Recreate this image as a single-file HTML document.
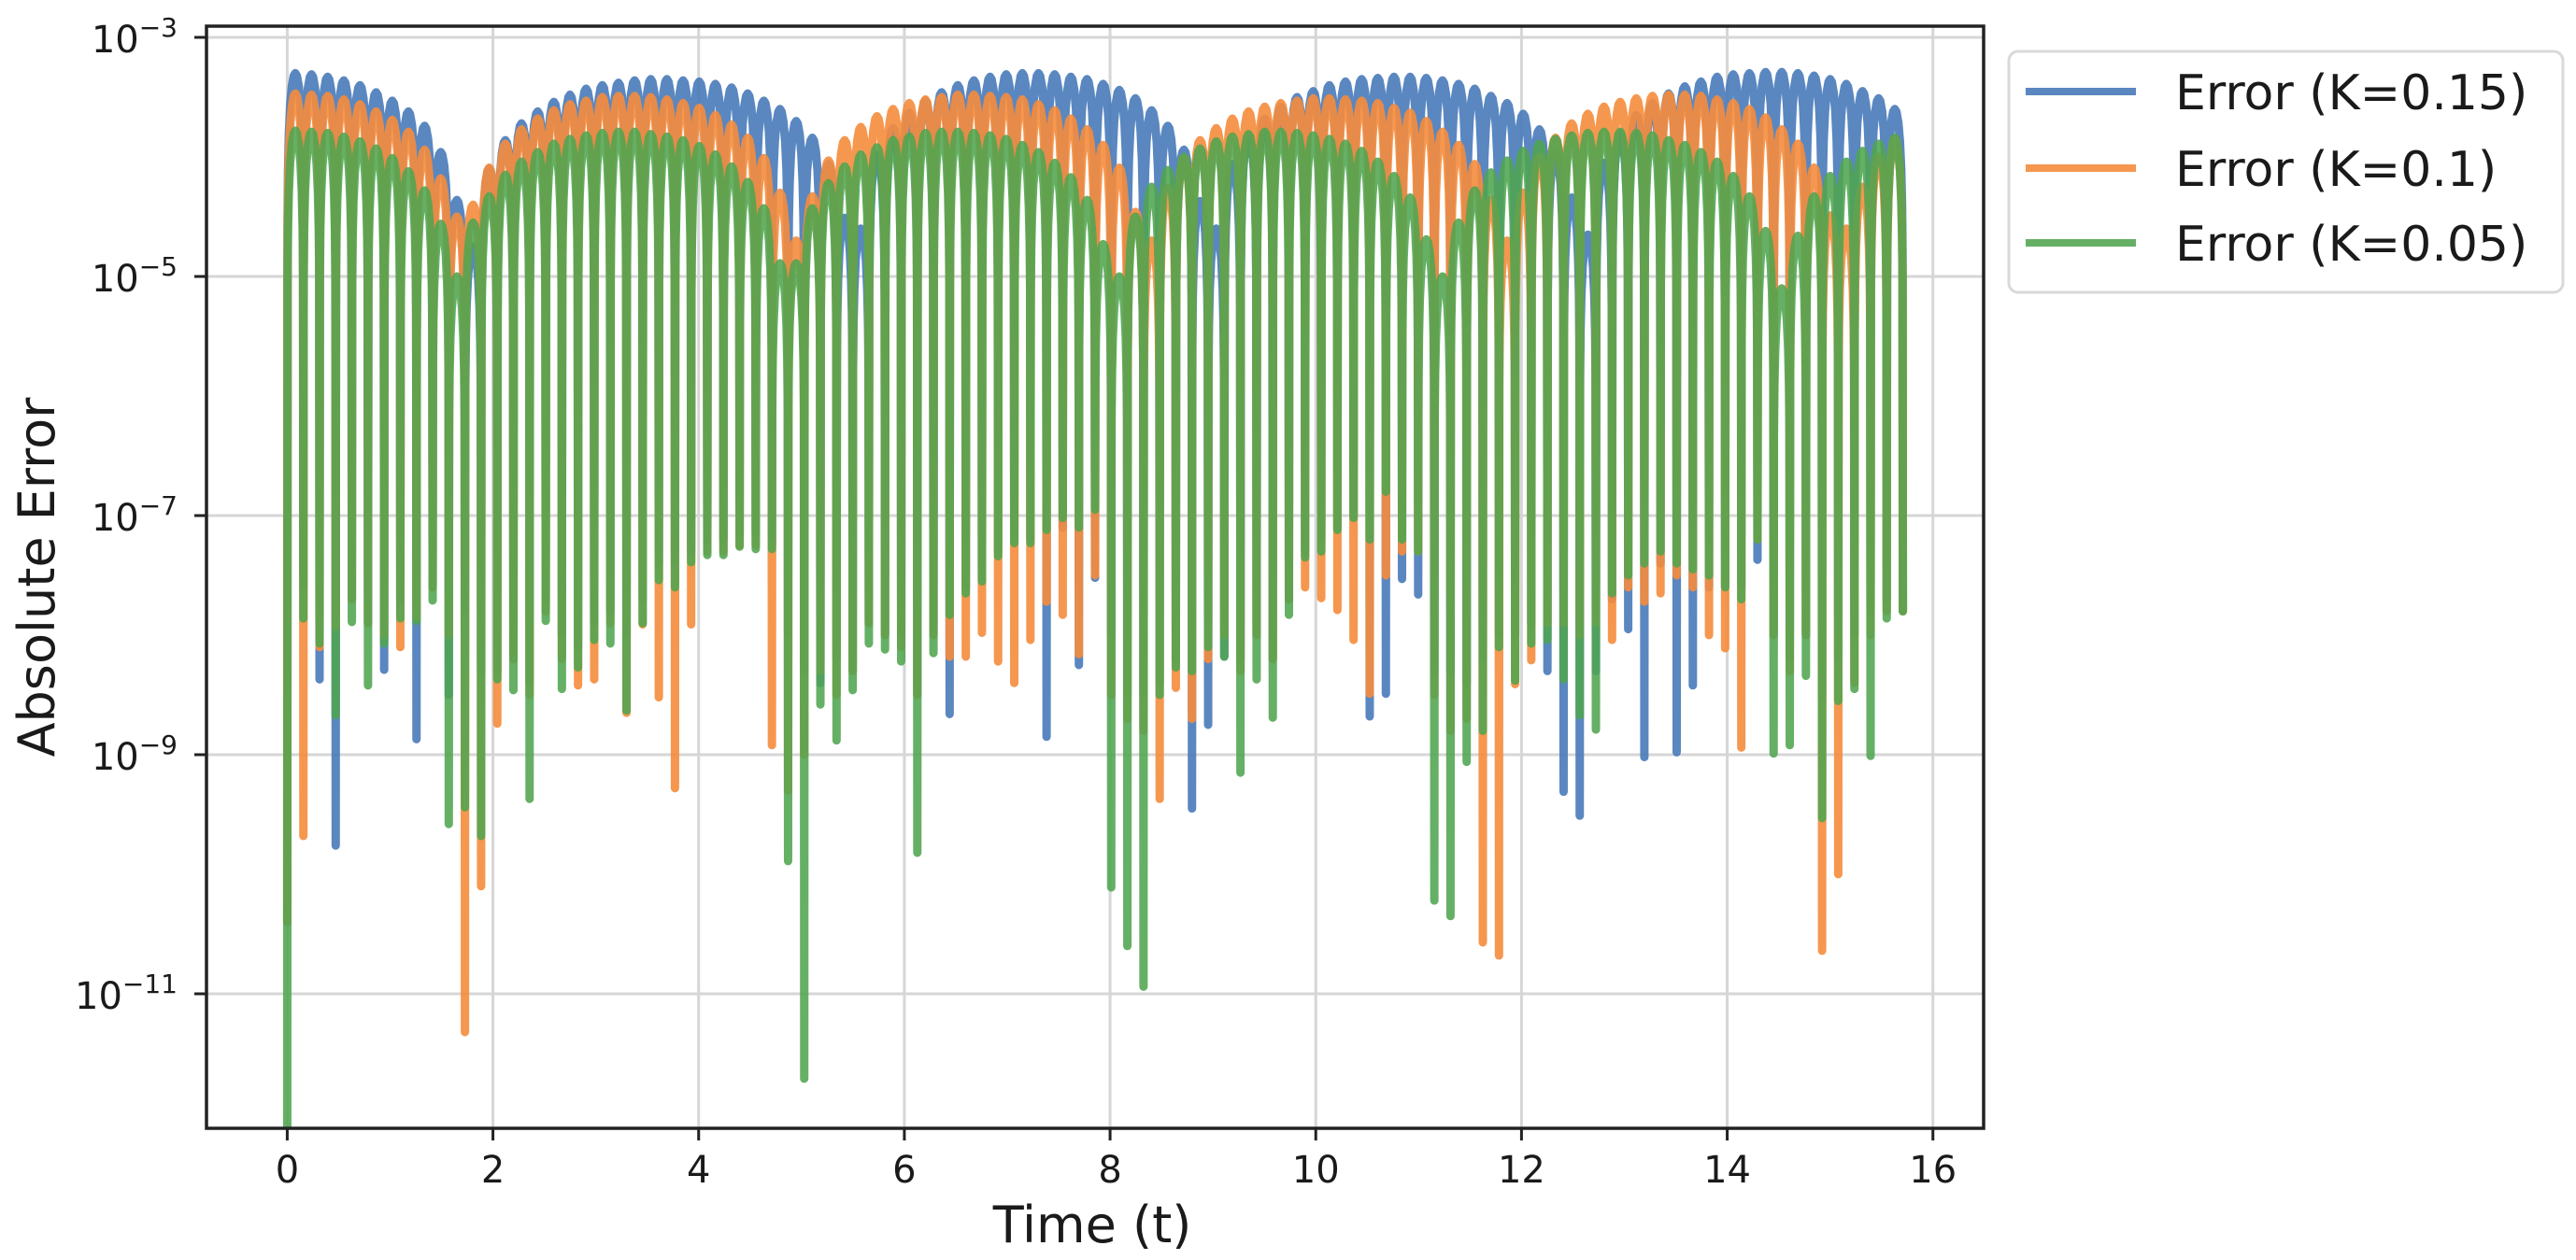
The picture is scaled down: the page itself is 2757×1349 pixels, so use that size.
<!DOCTYPE html>
<html>
<head>
<meta charset="utf-8">
<style>
  html, body { margin: 0; padding: 0; background: #ffffff; }
  svg { display: block; font-family: "DejaVu Sans", "Liberation Sans", sans-serif; }
</style>
</head>
<body>
<svg id="chart" xmlns="http://www.w3.org/2000/svg" width="2757" height="1349" viewBox="0 0 2757 1349">
  <rect x="0" y="0" width="2757" height="1349" fill="#ffffff"/>
  <defs>
    <clipPath id="plotclip"><rect x="221" y="28" width="1902" height="1180"/></clipPath>
  </defs>
  <g id="grid"></g>
  <g id="series" clip-path="url(#plotclip)"></g>
  <rect x="221" y="28" width="1902" height="1180" fill="none" stroke="#222222" stroke-width="3.5"/>
  <g id="xticks"></g>
  <g id="yticks"></g>
  <text x="1169" y="1330" font-size="54" text-anchor="middle" fill="#1a1a1a">Time (t)</text>
  <text transform="rotate(-90)" x="-618" y="58" font-size="54" text-anchor="middle" fill="#1a1a1a">Absolute Error</text>
  <g>
    <rect x="2150" y="55" width="593" height="258" rx="10" fill="#ffffff" stroke="#d9d9d9" stroke-width="3"/>
    <g>
      <line x1="2168" y1="98" x2="2286" y2="98" stroke="rgb(72,122,185)" stroke-opacity="0.9" stroke-width="8"/>
      <text x="2328" y="117" font-size="52" fill="#1a1a1a">Error (K=0.15)</text>
    </g>
    <g>
      <line x1="2168" y1="180" x2="2286" y2="180" stroke="rgb(245,140,60)" stroke-opacity="0.9" stroke-width="8"/>
      <text x="2328" y="199" font-size="52" fill="#1a1a1a">Error (K=0.1)</text>
    </g>
    <g>
      <line x1="2168" y1="260" x2="2286" y2="260" stroke="rgb(80,165,80)" stroke-opacity="0.88" stroke-width="8"/>
      <text x="2328" y="279" font-size="52" fill="#1a1a1a">Error (K=0.05)</text>
    </g>
  </g>
</svg>
<script>
// ---- data (log10 of absolute error) ----
const xTickValues = [0, 2, 4, 6, 8, 10, 12, 14, 16];
const xTickLabels = ["0", "2", "4", "6", "8", "10", "12", "14", "16"];
const yTickExponents = [-3, -5, -7, -9, -11];
const yTickLabels = ["−3", "−5", "−7", "−9", "−11"];
const humpStep = Math.PI / 20;

const bluePeaks = [-3.30,-3.31,-3.33,-3.36,-3.40,-3.46,-3.53,-3.62,-3.74,-3.96,
-4.36,-4.75,-4.10,-3.86,-3.72,-3.62,-3.54,-3.48,-3.43,-3.40,
-3.38,-3.36,-3.35,-3.35,-3.36,-3.37,-3.39,-3.42,-3.47,-3.53,
-3.60,-3.70,-3.84,-4.06,-4.51,-4.60,-3.98,-3.76,-3.63,-3.53,
-3.46,-3.40,-3.36,-3.33,-3.31,-3.30,-3.30,-3.31,-3.33,-3.35,
-3.39,-3.44,-3.51,-3.61,-3.74,-3.94,-4.37,-4.60,-4.06,-3.82,
-3.68,-3.58,-3.50,-3.45,-3.40,-3.37,-3.35,-3.34,-3.33,-3.33,
-3.34,-3.36,-3.39,-3.43,-3.49,-3.55,-3.64,-3.77,-3.97,-4.34,
-4.65,-4.05,-3.80,-3.65,-3.55,-3.47,-3.41,-3.37,-3.33,-3.31,
-3.30,-3.29,-3.29,-3.30,-3.32,-3.35,-3.39,-3.45,-3.51,-3.60];

const blueTroughs = [-10.4,-7.6,-8.37,-9.76,-7.7,-7.9,-8.29,-7.7,-8.87,-7.6,
-8.5,-7.8,-8.3,-8.3,-8.2,-8.4,-7.7,-8.0,-8.1,-7.9,
-7.8,-8.0,-7.7,-7.4,-7.4,-7.3,-7.2,-7.2,-7.15,-7.15,
-7.2,-8.0,-8.3,-8.4,-8.2,-8.3,-7.9,-8.0,-8.0,-8.5,
-8.0,-8.66,-7.6,-7.5,-7.3,-7.2,-7.2,-8.85,-7.1,-8.25,
-7.52,-8.0,-8.5,-8.5,-8.4,-8.2,-9.45,-8.75,-8.18,-8.2,
-8.0,-8.2,-7.7,-7.3,-7.2,-7.1,-7.0,-8.68,-8.49,-7.53,
-7.66,-8.3,-8.3,-8.4,-8.2,-8.0,-8.0,-7.9,-8.3,-9.31,
-9.51,-8.3,-7.7,-7.95,-9.02,-7.4,-8.98,-8.42,-7.6,-7.6,
-7.6,-7.37,-8.0,-8.2,-8.0,-8.5,-8.2,-8.0,-7.8,-7.7,-7.8];

const orangePeaks = [-3.47,-3.48,-3.49,-3.52,-3.56,-3.62,-3.69,-3.79,-3.94,-4.18,
-4.50,-4.40,-4.09,-3.89,-3.77,-3.68,-3.61,-3.56,-3.53,-3.50,
-3.49,-3.49,-3.50,-3.52,-3.55,-3.59,-3.65,-3.73,-3.84,-4.01,
-4.30,-4.70,-4.33,-4.03,-3.86,-3.75,-3.66,-3.60,-3.55,-3.52,
-3.50,-3.48,-3.48,-3.49,-3.50,-3.52,-3.56,-3.61,-3.68,-3.77,
-3.90,-4.09,-4.46,-4.70,-4.26,-4.01,-3.86,-3.76,-3.68,-3.62,
-3.58,-3.55,-3.53,-3.51,-3.51,-3.52,-3.53,-3.55,-3.59,-3.63,
-3.70,-3.79,-3.90,-4.06,-4.36,-4.70,-4.30,-4.00,-3.84,-3.72,
-3.64,-3.58,-3.54,-3.51,-3.49,-3.48,-3.48,-3.49,-3.52,-3.55,
-3.60,-3.67,-3.77,-3.89,-4.09,-4.49,-4.60,-4.25,-4.00,-3.85];

const orangeTroughs = [-10.4,-9.68,-8.1,-7.93,-7.7,-7.9,-8.0,-8.1,-7.85,-7.6,
-8.0,-11.32,-10.1,-8.74,-8.2,-8.5,-7.8,-8.2,-8.42,-8.37,
-7.9,-8.65,-7.91,-8.52,-9.28,-7.91,-7.3,-7.3,-7.25,-7.25,
-8.92,-9.3,-9.0,-8.3,-8.5,-8.3,-7.9,-8.0,-8.1,-8.5,
-8.0,-8.18,-8.18,-7.98,-8.22,-8.4,-8.04,-7.72,-7.83,-8.16,
-7.5,-8.5,-8.7,-8.8,-9.37,-8.44,-8.7,-8.2,-8.0,-8.3,
-8.0,-8.2,-7.7,-7.6,-7.69,-7.79,-8.04,-8.49,-7.5,-7.3,
-7.3,-8.5,-8.8,-8.7,-10.57,-10.68,-8.41,-8.21,-7.9,-7.9,
-8.0,-7.9,-8.04,-7.6,-7.72,-7.65,-7.5,-7.6,-8.0,-8.11,
-8.94,-7.2,-8.0,-8.3,-8.0,-10.64,-10.0,-8.4,-8.0,-7.8,-7.8];

const greenPeaks = [-3.78,-3.79,-3.80,-3.83,-3.87,-3.93,-4.01,-4.12,-4.28,-4.56,
-5.00,-4.55,-4.33,-4.15,-4.04,-3.96,-3.89,-3.85,-3.82,-3.80,
-3.79,-3.79,-3.81,-3.83,-3.86,-3.91,-3.98,-4.08,-4.21,-4.43,
-4.89,-4.89,-4.43,-4.22,-4.08,-3.98,-3.92,-3.86,-3.83,-3.80,
-3.79,-3.79,-3.80,-3.82,-3.85,-3.90,-3.96,-4.05,-4.17,-4.36,
-4.73,-5.00,-4.50,-4.25,-4.11,-4.00,-3.93,-3.87,-3.83,-3.81,
-3.79,-3.79,-3.80,-3.82,-3.85,-3.89,-3.95,-4.04,-4.16,-4.34,
-4.69,-5.00,-4.55,-4.28,-4.13,-4.03,-3.95,-3.89,-3.85,-3.82,
-3.80,-3.79,-3.79,-3.80,-3.82,-3.86,-3.90,-3.96,-4.04,-4.16,
-4.33,-4.62,-5.10,-4.66,-4.33,-4.16,-4.04,-3.95,-3.89,-3.84];

const greenTroughs = [-12.3,-7.86,-8.07,-8.67,-7.89,-8.42,-8.07,-7.86,-7.88,-7.71,
-9.58,-9.44,-9.68,-8.37,-8.46,-9.37,-7.88,-8.45,-8.27,-8.04,
-8.07,-8.63,-7.9,-7.54,-7.6,-7.39,-7.33,-7.33,-7.26,-7.28,
-7.28,-9.89,-11.71,-8.58,-8.88,-8.46,-8.07,-8.12,-8.22,-9.82,
-8.15,-7.83,-7.65,-7.55,-7.34,-7.23,-7.23,-7.12,-7.02,-7.1,
-6.95,-10.11,-10.6,-10.94,-8.5,-8.27,-8.3,-8.1,-8.18,-9.15,
-8.37,-8.69,-7.83,-7.35,-7.3,-7.12,-7.02,-7.2,-6.8,-7.2,
-7.3,-10.22,-10.35,-9.06,-8.8,-8.1,-8.38,-8.07,-8.04,-8.37,
-8.67,-8.79,-7.65,-7.5,-7.4,-7.3,-7.4,-7.45,-7.5,-7.6,
-7.7,-7.2,-8.99,-8.92,-8.34,-9.53,-8.55,-8.45,-9.01,-7.86,-7.8];

// ---- axes ----
const PL = 221, PR = 2123, PT = 28, PB = 1208;
const XMIN = -0.785, XMAX = 16.493;
function xScale(t) { return PL + (t - XMIN) / (XMAX - XMIN) * (PR - PL); }
function yScale(lg) { return 40 + (-3 - lg) * 128; }

const NS = "http://www.w3.org/2000/svg";
const gridG = document.getElementById("grid");
const xG = document.getElementById("xticks");
const yG = document.getElementById("yticks");
const sG = document.getElementById("series");

xTickValues.forEach(function (v, i) {
  const x = xScale(v);
  const gl = document.createElementNS(NS, "line");
  gl.setAttribute("x1", x); gl.setAttribute("x2", x);
  gl.setAttribute("y1", PT); gl.setAttribute("y2", PB);
  gl.setAttribute("stroke", "#d6d6d6"); gl.setAttribute("stroke-width", "3");
  
  
  gridG.appendChild(gl);
  const tk = document.createElementNS(NS, "line");
  tk.setAttribute("x1", x); tk.setAttribute("x2", x);
  tk.setAttribute("y1", PB); tk.setAttribute("y2", PB + 13);
  tk.setAttribute("stroke", "#222222"); tk.setAttribute("stroke-width", "3");
  
  
  xG.appendChild(tk);
  const tx = document.createElementNS(NS, "text");
  tx.setAttribute("x", x); tx.setAttribute("y", 1266);
  tx.setAttribute("font-size", "40"); tx.setAttribute("text-anchor", "middle");
  tx.setAttribute("fill", "#1a1a1a");
  tx.textContent = xTickLabels[i];
  
  
  xG.appendChild(tx);
});

yTickExponents.forEach(function (e, i) {
  const y = yScale(e);
  const gl = document.createElementNS(NS, "line");
  gl.setAttribute("x1", PL); gl.setAttribute("x2", PR);
  gl.setAttribute("y1", y); gl.setAttribute("y2", y);
  gl.setAttribute("stroke", "#d6d6d6"); gl.setAttribute("stroke-width", "3");
  
  
  gridG.appendChild(gl);
  const tk = document.createElementNS(NS, "line");
  tk.setAttribute("x1", PL - 13); tk.setAttribute("x2", PL);
  tk.setAttribute("y1", y); tk.setAttribute("y2", y);
  tk.setAttribute("stroke", "#222222"); tk.setAttribute("stroke-width", "3");
  
  
  yG.appendChild(tk);
  const tx = document.createElementNS(NS, "text");
  tx.setAttribute("x", 190); tx.setAttribute("y", y + 16);
  tx.setAttribute("text-anchor", "end"); tx.setAttribute("fill", "#1a1a1a");
  const b = document.createElementNS(NS, "tspan");
  b.setAttribute("font-size", "40");
  b.textContent = "10";
  const s = document.createElementNS(NS, "tspan");
  s.setAttribute("font-size", "28"); s.setAttribute("dy", "-17");
  s.textContent = yTickLabels[i];
  tx.appendChild(b); tx.appendChild(s);
  
  
  yG.appendChild(tx);
});

// ---- series ----
const SAMPLES = [0.02, 0.05, 0.1, 0.18, 0.28, 0.4, 0.5, 0.6, 0.72, 0.82, 0.9, 0.95, 0.98];
function buildPath(peaks, troughs) {
  let d = "M" + xScale(0).toFixed(2) + "," + yScale(troughs[0]).toFixed(2);
  for (let k = 0; k < peaks.length; k++) {
    const ta = k * humpStep, tb = (k + 1) * humpStep;
    const lo = Math.min(troughs[k], troughs[k + 1]);
    SAMPLES.forEach(function (s) {
      let v = peaks[k] + Math.log10(Math.sin(Math.PI * s));
      if (v < lo) v = lo;
      d += "L" + xScale(ta + s * (tb - ta)).toFixed(2) + "," + yScale(v).toFixed(2);
    });
    d += "L" + xScale(tb).toFixed(2) + "," + yScale(troughs[k + 1]).toFixed(2);
  }
  return d;
}
function addSeries(peaks, troughs, color, op, name) {
  const p = document.createElementNS(NS, "path");
  p.setAttribute("d", buildPath(peaks, troughs));
  p.setAttribute("fill", "none");
  p.setAttribute("stroke", color);
  p.setAttribute("stroke-opacity", op);
  p.setAttribute("stroke-width", "9");
  p.setAttribute("stroke-linejoin", "round");
  p.setAttribute("stroke-linecap", "round");
  
  
  sG.appendChild(p);
}
addSeries(bluePeaks, blueTroughs, "rgb(72,122,185)", "0.9", "series-k015");
addSeries(orangePeaks, orangeTroughs, "rgb(245,140,60)", "0.9", "series-k01");
addSeries(greenPeaks, greenTroughs, "rgb(80,165,80)", "0.88", "series-k005");
</script>
</body>
</html>
